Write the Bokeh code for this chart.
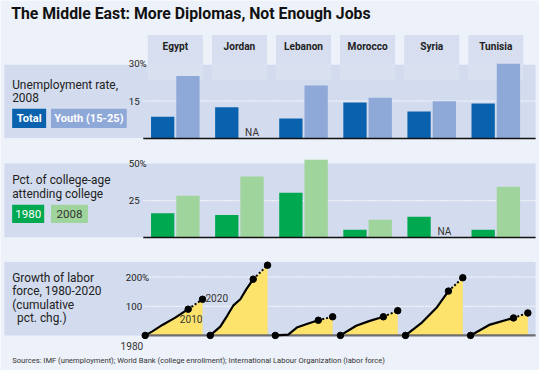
import numpy as np
from bokeh.plotting import figure
from bokeh.models import Range1d, ColumnDataSource
from bokeh.transform import dodge
from bokeh.core.properties import value
from bokeh.embed import file_html
from bokeh.resources import INLINE

# ---------------- data ----------------
countries = ["Egypt", "Jordan", "Lebanon", "Morocco", "Syria", "Tunisia"]

unemp_total = [8.7, 12.6, 8.0, 14.5, 10.8, 14.1]
unemp_youth = [25.1, None, 21.3, 16.4, 15.0, 30.0]
unemp_ticks = [15, 30]
unemp_tick_labels = ["15", "30%"]

college_1980 = [16.4, 15.3, 30.2, 5.2, 14.0, 5.2]
college_2008 = [28.2, 41.2, 52.5, 12.0, None, 34.3]
college_ticks = [25, 50]
college_tick_labels = ["25", "50%"]

labor_ticks = [100, 200]
labor_tick_labels = ["100", "200%"]
egypt_years = [1980, 1985, 1992, 2001, 2010, 2020]
egypt_growth = [0, 14, 36, 61, 90, 124]
jordan_years = [1980, 1987, 1992, 1996, 2001, 2005, 2010, 2020]
jordan_growth = [0, 30, 69, 102, 124, 157, 193, 241]
lebanon_years = [1980, 1989, 1995, 2003, 2010, 2020]
lebanon_growth = [0, 3, 27, 41, 52, 64]
morocco_years = [1980, 1991, 2000, 2010, 2020]
morocco_growth = [0, 33, 49, 64, 85]
syria_years = [1980, 1991, 2002, 2010, 2020]
syria_growth = [0, 42, 97, 152, 198]
tunisia_years = [1980, 1993, 2010, 2020]
tunisia_growth = [0, 36, 60, 77]

labor_years = [egypt_years, jordan_years, lebanon_years, morocco_years, syria_years, tunisia_years]
labor_growth = [egypt_growth, jordan_growth, lebanon_growth, morocco_growth, syria_growth, tunisia_growth]

title = "The Middle East:  More Diplomas, Not Enough Jobs"
source_note = ("Sources: IMF (unemployment); World Bank (college enrollment); "
               "International Labour Organization (labor force)")

# ---------------- layout / style ----------------
W, H = 555, 386          # reference canvas units
PW, PH = 539, 370        # figure size in pixels
FS = 0.965


def fs(px):
    return f"{px * FS:.1f}px"


FONT = "Roboto"
BG = "#edf1f9"
BAND = "#d3dcee"
HEAD = "#d6deef"
DB, LB = "#0a62ae", "#8ea8d8"
DG, LG = "#00a84f", "#9fd49c"
YEL = "#fde36c"

CAT0, CATW = 180.0, 66.0
L_X0, L_STEP, L_PPY = 149.0, 67.0, 1.475
U_BASE, U_PPU = 144.0, 2.6
C_BASE, C_PPU = 247.3, 1.544
L_BASE, L_PPU = 349.4, 0.304
AX_L, AX_R = 147, 551


def yrange(base_px, ppu):
    return Range1d(start=(base_px - H) / ppu, end=base_px / ppu)


p = figure(width=PW, height=PH, x_range=Range1d(0, W), y_range=Range1d(H, 0),
           x_axis_type=None, y_axis_type=None, output_backend="svg",
           toolbar_location=None, min_border=0, background_fill_color=BG,
           border_fill_color=BG, outline_line_color=None)

xr = {"cat": Range1d(-CAT0 / CATW, (W - CAT0) / CATW)}
for i in range(len(countries)):
    s = L_X0 + L_STEP * i
    xr[f"yr{i}"] = Range1d(1980 - s / L_PPY, 1980 + (W - s) / L_PPY)
p.extra_x_ranges = xr
p.extra_y_ranges = {"unemp": yrange(U_BASE, U_PPU),
                    "coll": yrange(C_BASE, C_PPU),
                    "labor": yrange(L_BASE, L_PPU)}


def txt(x, y, s, size, color="#222222", bold=False, align="left",
        baseline="middle", font=FONT, **kw):
    p.text(x=[x], y=[y], text=[s], text_font=value(font),
           text_font_size=fs(size), text_font_style="bold" if bold else "normal",
           text_color=color, text_align=align, text_baseline=baseline, **kw)


idx = np.arange(len(countries))
hb = 56.6 / CATW

# header boxes
p.quad(left=idx - hb / 2, right=idx + hb / 2, top=36, bottom=67,
       x_range_name="cat", fill_color=HEAD, line_color=None)

# panel bands
for t, b in [(67, 143.5), (170, 247), (272.7, 349.4)]:
    p.quad(left=[4], right=[551], top=[t], bottom=[b], fill_color=BAND, line_color=None)

p.quad(left=idx - hb / 2, right=idx + hb / 2, top=67, bottom=83,
       x_range_name="cat", fill_color="#d9e0f0", line_color=None)

# gridlines (top ticks of the bar panels coincide with band edge)
for rn, ticks in [("unemp", unemp_ticks[:-1]), ("coll", college_ticks[:-1]), ("labor", labor_ticks)]:
    p.segment(x0=[AX_L] * len(ticks), x1=[AX_R] * len(ticks), y0=ticks, y1=ticks,
              y_range_name=rn, line_color="#f4f6fb", line_width=1.2, line_dash="2 1")

# tick labels
for xs, ticks, labels, rn in [(132, unemp_ticks, unemp_tick_labels, "unemp"),
                              (132, college_ticks, college_tick_labels, "coll"),
                              (129, labor_ticks, labor_tick_labels, "labor")]:
    p.text(x=[xs] * len(ticks), y=ticks, text=labels, y_range_name=rn,
           text_font=value(FONT), text_font_size=fs(10), text_color="#222222",
           text_baseline="middle")


def nan(lst):
    return np.array([np.nan if v is None else v for v in lst], dtype=float)


src = ColumnDataSource(dict(idx=idx, ut=nan(unemp_total), uy=nan(unemp_youth),
                            c80=nan(college_1980), c08=nan(college_2008)))
OFF, BW = 13 / CATW, 24 / CATW
for field, off, col, rn in [("ut", -OFF, DB, "unemp"), ("uy", OFF, LB, "unemp"),
                            ("c80", -OFF, DG, "coll"), ("c08", OFF, LG, "coll")]:
    p.vbar(x=dodge("idx", off), width=BW, top=field, bottom=0, source=src,
           x_range_name="cat", y_range_name=rn, fill_color=col, line_color=None)

# NA labels
for vals, rn in [(unemp_youth, "unemp"), (college_2008, "coll")]:
    for i, v in enumerate(vals):
        if v is None:
            p.text(x=[i + OFF], y=[0], text=["NA"], x_range_name="cat", y_range_name=rn,
                   text_font=value(FONT), text_font_size=fs(10.5), text_color="#333333",
                   text_align="center", text_baseline="bottom", y_offset=-1)

# labor charts
for i, (yrs, g) in enumerate(zip(labor_years, labor_growth)):
    rn = f"yr{i}"
    p.varea(x=yrs, y1=[0] * len(yrs), y2=g, x_range_name=rn, y_range_name="labor",
            fill_color=YEL)
for rn, col, lw in [("unemp", "#111111", 1.6), ("coll", "#111111", 1.6), ("labor", "#6e6e6e", 2.4)]:
    p.segment(x0=[AX_L], x1=[AX_R], y0=[0], y1=[0], y_range_name=rn,
              line_color=col, line_width=lw)
for i, (yrs, g) in enumerate(zip(labor_years, labor_growth)):
    rn = f"yr{i}"
    k = yrs.index(2010)
    p.line(yrs[:k + 1], g[:k + 1], x_range_name=rn, y_range_name="labor",
           line_color="black", line_width=2.2)
    p.line(yrs[k:], g[k:], x_range_name=rn, y_range_name="labor",
           line_color="black", line_width=2, line_dash="2 2")
    p.scatter([yrs[0], yrs[k], yrs[-1]], [g[0], g[k], g[-1]], x_range_name=rn,
              y_range_name="labor", size=6.5, color="black")

# Egypt year annotations
txt(211, 310, "2020", 10.5, color="#333333")
txt(208, 332, "2010", 10.5, color="#333333", align="right")
txt(147, 360, "1980", 10.5, color="#333333", align="right")

# country headers
p.text(x=idx, y=[48] * len(idx), text=countries, x_range_name="cat",
       text_font=value(FONT), text_font_size=fs(10.5), text_font_style="bold",
       text_color="#222222", text_align="center", text_baseline="middle")

# title
txt(11, 14, title, 16.4, color="#111111", bold=True)

# panel labels
txt(12, 88, "Unemployment rate,", 12.3)
txt(12, 101.5, "2008", 12.3)
p.quad(left=[12, 52], right=[47, 130], top=[113, 113], bottom=[133, 133],
       fill_color=[DB, LB], line_color=None)
txt(29.5, 123.5, "Total", 11.5, color="white", bold=True, align="center")
txt(91, 123.5, "Youth (15-25)", 11.5, color="white", bold=True, align="center")

txt(12, 187.5, "Pct. of college-age", 12.3)
txt(12, 201.5, "attending college", 12.3)
p.quad(left=[12, 52], right=[45, 90], top=[213, 213], bottom=[232, 232],
       fill_color=[DG, LG], line_color=None)
txt(28.5, 223, "1980", 12, color="white", align="center")
txt(71, 223, "2008", 12, color="#333333", align="center")

txt(12, 290, "Growth of labor", 12.3)
txt(12, 303.5, "force, 1980-2020", 12.3)
txt(12, 317.5, "(cumulative", 12.3)
txt(17, 331.5, "pct. chg.)", 12.3)

# source
txt(12, 376, source_note, 7.9, color="#333333")

open("out.html", "w").write(file_html(p, INLINE))
